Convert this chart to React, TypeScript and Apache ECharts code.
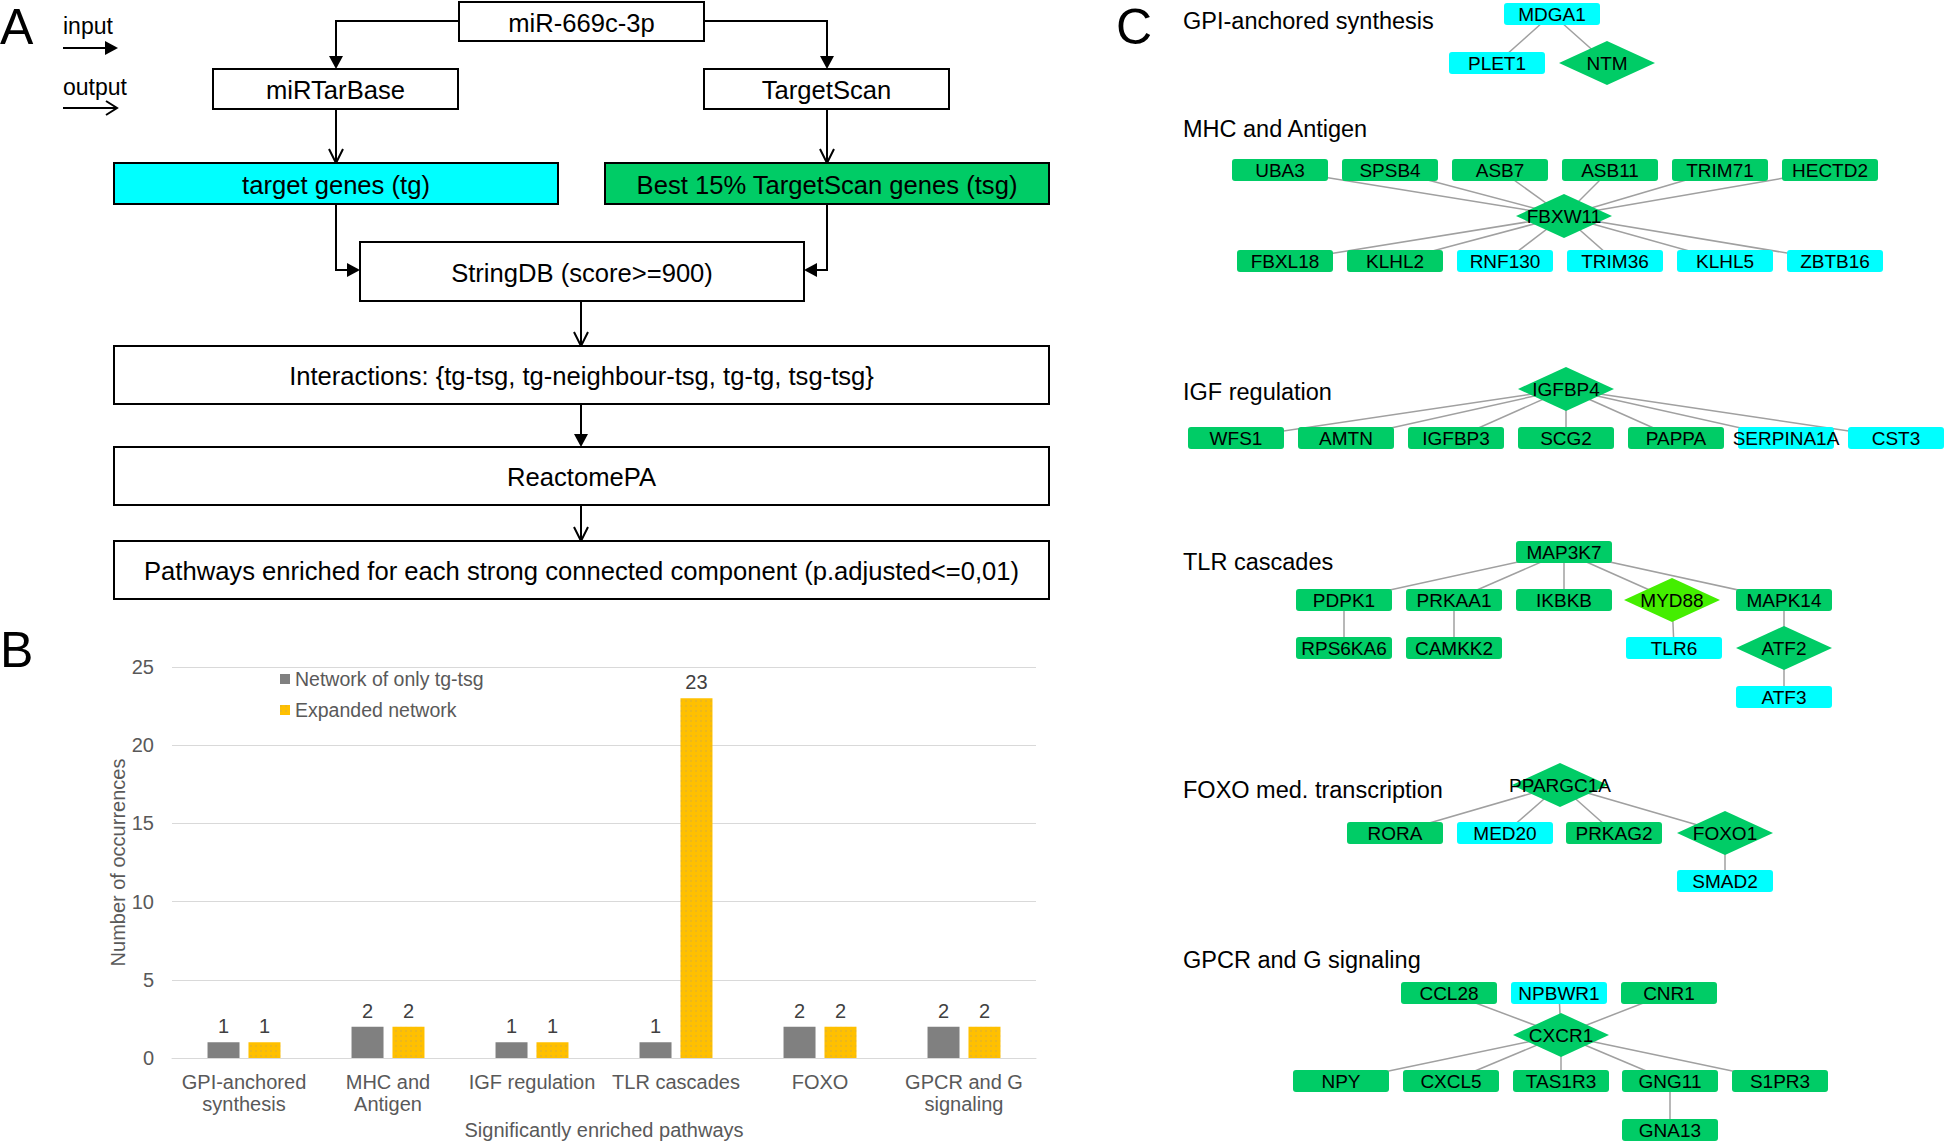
import React, { useEffect, useRef } from 'react';
import * as echarts from 'echarts';

const W = 1946;
const H = 1143;
const FONT = '"Liberation Sans", Arial, sans-serif';

// ---------- Panel B data ----------
const categories = ['GPI-anchored\nsynthesis', 'MHC and\nAntigen', 'IGF regulation', 'TLR cascades', 'FOXO', 'GPCR and G\nsignaling'];
const seriesNames = ['Network of only tg-tsg', 'Expanded network'];
const onlyTgTsg = [1, 2, 1, 1, 2, 2];
const expandedNetwork = [1, 2, 1, 23, 2, 2];
const yMax = 25;
const yInterval = 5;

// ---------- Panel C data ----------
// [name, kind, shape]  kind: tsg (green), tg (cyan), both (light green)
const pathwayTitles = ['GPI-anchored synthesis', 'MHC and Antigen', 'IGF regulation', 'TLR cascades', 'FOXO med. transcription', 'GPCR and G signaling'];

const gpiNodes = [['MDGA1', 'tg', 'rect'], ['PLET1', 'tg', 'rect'], ['NTM', 'tsg', 'diamond']];
const gpiLinks = [['MDGA1', 'PLET1'], ['MDGA1', 'NTM']];

const mhcNodes = [
  ['UBA3', 'tsg', 'rect'], ['SPSB4', 'tsg', 'rect'], ['ASB7', 'tsg', 'rect'], ['ASB11', 'tsg', 'rect'],
  ['TRIM71', 'tsg', 'rect'], ['HECTD2', 'tsg', 'rect'], ['FBXW11', 'tsg', 'diamond'],
  ['FBXL18', 'tsg', 'rect'], ['KLHL2', 'tsg', 'rect'], ['RNF130', 'tg', 'rect'], ['TRIM36', 'tg', 'rect'],
  ['KLHL5', 'tg', 'rect'], ['ZBTB16', 'tg', 'rect'],
];
const mhcLinks = ['UBA3', 'SPSB4', 'ASB7', 'ASB11', 'TRIM71', 'HECTD2', 'FBXL18', 'KLHL2', 'RNF130', 'TRIM36', 'KLHL5', 'ZBTB16'].map((n) => ['FBXW11', n]);

const igfNodes = [
  ['IGFBP4', 'tsg', 'diamond'], ['WFS1', 'tsg', 'rect'], ['AMTN', 'tsg', 'rect'], ['IGFBP3', 'tsg', 'rect'],
  ['SCG2', 'tsg', 'rect'], ['PAPPA', 'tsg', 'rect'], ['SERPINA1A', 'tg', 'rect'], ['CST3', 'tg', 'rect'],
];
const igfLinks = ['WFS1', 'AMTN', 'IGFBP3', 'SCG2', 'PAPPA', 'SERPINA1A', 'CST3'].map((n) => ['IGFBP4', n]);

const tlrNodes = [
  ['MAP3K7', 'tsg', 'rect'], ['PDPK1', 'tsg', 'rect'], ['PRKAA1', 'tsg', 'rect'], ['IKBKB', 'tsg', 'rect'],
  ['MYD88', 'both', 'diamond'], ['MAPK14', 'tsg', 'rect'], ['RPS6KA6', 'tsg', 'rect'], ['CAMKK2', 'tsg', 'rect'],
  ['TLR6', 'tg', 'rect'], ['ATF2', 'tsg', 'diamond'], ['ATF3', 'tg', 'rect'],
];
const tlrLinks = [
  ['MAP3K7', 'PDPK1'], ['MAP3K7', 'PRKAA1'], ['MAP3K7', 'IKBKB'], ['MAP3K7', 'MYD88'], ['MAP3K7', 'MAPK14'],
  ['PDPK1', 'RPS6KA6'], ['PRKAA1', 'CAMKK2'], ['MYD88', 'TLR6'], ['MAPK14', 'ATF2'], ['ATF2', 'ATF3'],
];

const foxoNodes = [
  ['PPARGC1A', 'tsg', 'diamond'], ['RORA', 'tsg', 'rect'], ['MED20', 'tg', 'rect'], ['PRKAG2', 'tsg', 'rect'],
  ['FOXO1', 'tsg', 'diamond'], ['SMAD2', 'tg', 'rect'],
];
const foxoLinks = [['PPARGC1A', 'RORA'], ['PPARGC1A', 'MED20'], ['PPARGC1A', 'PRKAG2'], ['PPARGC1A', 'FOXO1'], ['FOXO1', 'SMAD2']];

const gpcrNodes = [
  ['CCL28', 'tsg', 'rect'], ['NPBWR1', 'tg', 'rect'], ['CNR1', 'tsg', 'rect'], ['CXCR1', 'tsg', 'diamond'],
  ['NPY', 'tsg', 'rect'], ['CXCL5', 'tsg', 'rect'], ['TAS1R3', 'tsg', 'rect'], ['GNG11', 'tsg', 'rect'],
  ['S1PR3', 'tsg', 'rect'], ['GNA13', 'tsg', 'rect'],
];
const gpcrLinks = [
  ['CXCR1', 'CCL28'], ['CXCR1', 'NPBWR1'], ['CXCR1', 'CNR1'], ['CXCR1', 'NPY'], ['CXCR1', 'CXCL5'],
  ['CXCR1', 'TAS1R3'], ['CXCR1', 'GNG11'], ['CXCR1', 'S1PR3'], ['GNG11', 'GNA13'],
];

// ---------- Layout (pixel positions of the network drawing, kept apart from data) ----------
const nodeLayout: Record<string, [number, number]> = {
  MDGA1: [1552, 14], PLET1: [1497, 63], NTM: [1607, 63],
  UBA3: [1280, 170], SPSB4: [1390, 170], ASB7: [1500, 170], ASB11: [1610, 170], TRIM71: [1720, 170], HECTD2: [1830, 170],
  FBXW11: [1564, 216],
  FBXL18: [1285, 261], KLHL2: [1395, 261], RNF130: [1505, 261], TRIM36: [1615, 261], KLHL5: [1725, 261], ZBTB16: [1835, 261],
  IGFBP4: [1566, 389],
  WFS1: [1236, 438], AMTN: [1346, 438], IGFBP3: [1456, 438], SCG2: [1566, 438], PAPPA: [1676, 438], SERPINA1A: [1786, 438], CST3: [1896, 438],
  MAP3K7: [1564, 552],
  PDPK1: [1344, 600], PRKAA1: [1454, 600], IKBKB: [1564, 600], MYD88: [1672, 600], MAPK14: [1784, 600],
  RPS6KA6: [1344, 648], CAMKK2: [1454, 648], TLR6: [1674, 648], ATF2: [1784, 648],
  ATF3: [1784, 697],
  PPARGC1A: [1560, 785],
  RORA: [1395, 833], MED20: [1505, 833], PRKAG2: [1614, 833], FOXO1: [1725, 833],
  SMAD2: [1725, 881],
  CCL28: [1449, 993], NPBWR1: [1559, 993], CNR1: [1669, 993],
  CXCR1: [1561, 1035],
  NPY: [1341, 1081], CXCL5: [1451, 1081], TAS1R3: [1561, 1081], GNG11: [1670, 1081], S1PR3: [1780, 1081],
  GNA13: [1670, 1130],
};
const titleLayout: [number, number][] = [[1183, 21], [1183, 129], [1183, 392], [1183, 562], [1183, 790], [1183, 960]];

const kindColor: Record<string, string> = { tsg: '#00CC66', tg: '#00FFFF', both: '#44EE00' };
const ROUND_RECT = 'path://M3,0L93,0Q96,0 96,3L96,19Q96,22 93,22L3,22Q0,22 0,19L0,3Q0,0 3,0Z';

// ---------- Panel A helpers ----------
const LW = 2;
const BOX_FONT = 25.6;
function box(x1: number, y1: number, x2: number, y2: number, fill: string, label: string) {
  return [
    { type: 'rect', shape: { x: x1, y: y1, width: x2 - x1, height: y2 - y1 }, style: { fill, stroke: '#000', lineWidth: LW } },
    {
      type: 'text', x: (x1 + x2) / 2, y: (y1 + y2) / 2 + 1,
      style: { text: label, fontSize: BOX_FONT, fontFamily: FONT, fill: '#000', align: 'center', verticalAlign: 'middle' },
    },
  ];
}
function pline(points: number[][]) {
  return { type: 'polyline', shape: { points }, style: { stroke: '#000', lineWidth: LW, fill: null } };
}
function headDown(x: number, y: number) {
  return { type: 'polygon', shape: { points: [[x - 7, y - 13], [x + 7, y - 13], [x, y]] }, style: { fill: '#000' } };
}
function headRight(x: number, y: number) {
  return { type: 'polygon', shape: { points: [[x - 13, y - 7], [x - 13, y + 7], [x, y]] }, style: { fill: '#000' } };
}
function headLeft(x: number, y: number) {
  return { type: 'polygon', shape: { points: [[x + 13, y - 7], [x + 13, y + 7], [x, y]] }, style: { fill: '#000' } };
}
function openDown(x: number, y: number) {
  return pline([[x - 7, y - 14], [x, y], [x + 7, y - 14]]);
}
function txt(x: number, y: number, text: string, size: number, align = 'left') {
  return { type: 'text', x, y, style: { text, fontSize: size, fontFamily: FONT, fill: '#000', align, verticalAlign: 'middle' } };
}

export default function App() {
  const ref = useRef<HTMLDivElement>(null);
  useEffect(() => {
    document.body.style.margin = '0';
    const chart = echarts.init(ref.current!, undefined, { renderer: 'svg', width: W, height: H });

    const allNodes = [...gpiNodes, ...mhcNodes, ...igfNodes, ...tlrNodes, ...foxoNodes, ...gpcrNodes];
    const allLinks = [...gpiLinks, ...mhcLinks, ...igfLinks, ...tlrLinks, ...foxoLinks, ...gpcrLinks];

    const panelA: any[] = [
      txt(0, 27, 'A', 50),
      txt(0, 650, 'B', 50),
      txt(1116, 27, 'C', 50),
      txt(63, 26, 'input', 23),
      pline([[63, 48], [106, 48]]), headRight(118, 48),
      txt(63, 87, 'output', 23),
      pline([[63, 108], [117, 108]]), pline([[106, 101], [117, 108], [106, 115]]),
      pline([[459, 21], [336, 21], [336, 57]]), headDown(336, 69),
      pline([[704, 21], [827, 21], [827, 57]]), headDown(827, 69),
      ...box(459, 2, 704, 41, '#fff', 'miR-669c-3p'),
      ...box(213, 69, 458, 109, '#fff', 'miRTarBase'),
      ...box(704, 69, 949, 109, '#fff', 'TargetScan'),
      pline([[336, 109], [336, 163]]), openDown(336, 163),
      pline([[827, 109], [827, 163]]), openDown(827, 163),
      ...box(114, 163, 558, 204, '#00FFFF', 'target genes (tg)'),
      ...box(605, 163, 1049, 204, '#00CC66', 'Best 15% TargetScan genes (tsg)'),
      pline([[336, 204], [336, 270], [348, 270]]), headRight(360, 270),
      pline([[827, 204], [827, 270], [816, 270]]), headLeft(804, 270),
      ...box(360, 242, 804, 301, '#fff', 'StringDB (score>=900)'),
      pline([[581, 301], [581, 346]]), openDown(581, 346),
      ...box(114, 346, 1049, 404, '#fff', 'Interactions: {tg-tsg, tg-neighbour-tsg, tg-tg, tsg-tsg}'),
      pline([[581, 404], [581, 436]]), headDown(581, 447),
      ...box(114, 447, 1049, 505, '#fff', 'ReactomePA'),
      pline([[581, 505], [581, 541]]), openDown(581, 541),
      ...box(114, 541, 1049, 599, '#fff', 'Pathways enriched for each strong connected component (p.adjusted<=0,01)'),
      ...pathwayTitles.map((t, i) => txt(titleLayout[i][0], titleLayout[i][1], t, 23.5)),
    ];

    const option: any = {
      animation: false,
      backgroundColor: '#fff',
      textStyle: { fontFamily: FONT },
      legend: {
        data: seriesNames,
        orient: 'vertical',
        left: 275,
        top: 664,
        itemWidth: 10,
        itemHeight: 10,
        itemGap: 11,
        icon: 'rect',
        textStyle: { color: '#595959', fontSize: 19.5, fontFamily: FONT },
      },
      grid: [
        { left: 172, top: 667, width: 864, height: 391, containLabel: false },
        { left: 0, top: 0, width: W, height: H, containLabel: false },
      ],
      xAxis: [
        {
          type: 'category', gridIndex: 0, data: categories,
          axisLine: { show: true, lineStyle: { color: '#D9D9D9', width: 1 } },
          axisTick: { show: false },
          axisLabel: { color: '#595959', fontSize: 20, margin: 13, lineHeight: 22, interval: 0, fontFamily: FONT },
          name: 'Significantly enriched pathways', nameLocation: 'middle', nameGap: 62,
          nameTextStyle: { color: '#595959', fontSize: 20, fontFamily: FONT },
        },
        { type: 'value', gridIndex: 1, min: 0, max: W, show: false },
      ],
      yAxis: [
        {
          type: 'value', gridIndex: 0, min: 0, max: yMax, interval: yInterval,
          axisLine: { show: false }, axisTick: { show: false },
          splitLine: { lineStyle: { color: '#D9D9D9', width: 1 } },
          axisLabel: { color: '#595959', fontSize: 20, margin: 18, fontFamily: FONT },
          name: 'Number of occurrences', nameLocation: 'middle', nameGap: 44, nameRotate: 90,
          nameTextStyle: { color: '#595959', fontSize: 20, fontFamily: FONT },
        },
        { type: 'value', gridIndex: 1, min: 0, max: H, inverse: true, show: false },
      ],
      series: [
        {
          type: 'bar', name: seriesNames[0], data: onlyTgTsg, xAxisIndex: 0, yAxisIndex: 0,
          barWidth: 32, barGap: '28%', itemStyle: { color: '#808080' },
          label: { show: true, position: 'top', color: '#404040', fontSize: 20, distance: 6, fontFamily: FONT },
        },
        {
          type: 'bar', name: seriesNames[1], data: expandedNetwork, xAxisIndex: 0, yAxisIndex: 0,
          barWidth: 32, barGap: '28%',
          itemStyle: {
            color: '#FFC000',
            decal: { symbol: 'rect', symbolSize: 0.6, color: 'rgba(110,125,210,0.45)', dashArrayX: [2, 3], dashArrayY: [2, 3] },
          },
          label: { show: true, position: 'top', color: '#404040', fontSize: 20, distance: 6, fontFamily: FONT },
        },
        {
          type: 'graph', coordinateSystem: 'cartesian2d', xAxisIndex: 1, yAxisIndex: 1, layout: 'none',
          data: allNodes.map(([name, kind, shape]) => ({
            name,
            value: nodeLayout[name],
            symbol: shape === 'diamond' ? 'diamond' : ROUND_RECT,
            symbolSize: shape === 'diamond' ? [96, 44] : [96, 22],
            itemStyle: { color: kindColor[kind] },
          })),
          links: allLinks.map(([s, t]) => ({ source: s, target: t })),
          label: { show: true, position: 'inside', formatter: '{b}', color: '#000', fontSize: 19, fontFamily: FONT },
          lineStyle: { color: '#A0A0A0', width: 1.5, opacity: 1, curveness: 0 },
          emphasis: { disabled: true },
        },
      ],
      graphic: panelA,
    };
    chart.setOption(option);
    return () => chart.dispose();
  }, []);
  return <div ref={ref} style={{ position: 'absolute', left: 0, top: 0, width: W, height: H, background: '#fff' }} />;
}
